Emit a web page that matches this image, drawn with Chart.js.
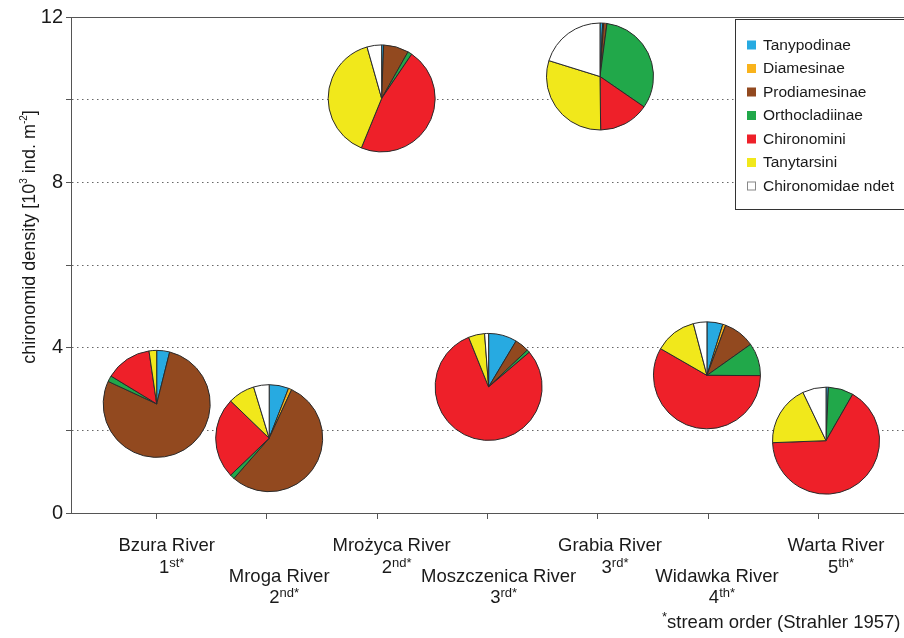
<!DOCTYPE html>
<html><head><meta charset="utf-8">
<script src="https://cdn.jsdelivr.net/npm/chart.js@4.4.1/dist/chart.umd.min.js"></script>
<style>html,body{margin:0;padding:0;background:#fff;}#wrap{width:904px;height:638px;}</style>
</head><body><div id="wrap"><canvas id="c" width="904" height="638"></canvas></div>
<script>
// ---- data ----
const rivers = ['Bzura River','Mroga River','Mrożyca River','Moszczenica River','Grabia River','Widawka River','Warta River'];
const orderNumber = ['1','2','2','3','3','4','5'];
const orderSuffix = ['st','nd','nd','rd','rd','th','th'];
const xPos = [1.0, 2.02, 3.04, 4.01, 5.02, 5.99, 7.07];
const density = [2.64, 1.81, 10.03, 3.05, 10.56, 3.33, 1.75];
const subfamilies = ['Tanypodinae','Diamesinae','Prodiamesinae','Orthocladiinae','Chironomini','Tanytarsini','Chironomidae ndet'];
const subColors = ['#27AAE1','#F9B31C','#92491F','#21A84A','#EE2029','#F1E81B','#FFFFFF'];
// percentage share of each subfamily at each river
const tanypodinae    = [3.9, 5.9, 0.6, 8.6, 0.8, 4.8, 0.7];
const diamesinae     = [0,   1.0, 0,   0,   0.3, 0.9, 0];
const prodiamesinae  = [78,  54.6,7.6, 4.3, 1.0, 9.5, 0];
const orthocladiinae = [1.8, 1.4, 1.3, 0.9, 32.5,9.9, 7.6];
const chironomini    = [14,  24.4,46.7,80.3,15.2,58.3,66.1];
const tanytarsini    = [2.3, 8.1, 39.4,4.9, 30,  12.6,18.5];
const ndet           = [0,   4.7, 4.4, 1.2, 20.2,4.1, 7.1];
const shares = [tanypodinae, diamesinae, prodiamesinae, orthocladiinae, chironomini, tanytarsini, ndet];
const xTicks = [1,2,3,4,5,6,7];
const yTickLabels = [0,4,8,12];

const FONT = '"Liberation Sans", Arial, Helvetica, sans-serif';
const PIE_R = 53.5;

function drawRuns(ctx, runs, x, y, align) {
  let total = 0;
  runs.forEach(r => { ctx.font = r.size + 'px ' + FONT; r.w = ctx.measureText(r.t).width; total += r.w; });
  let cx = align === 'center' ? x - total / 2 : x;
  ctx.textAlign = 'left';
  ctx.textBaseline = 'alphabetic';
  runs.forEach(r => { ctx.font = r.size + 'px ' + FONT; ctx.fillText(r.t, cx, y - (r.rise || 0)); cx += r.w; });
}

const piePlugin = {
  id: 'pies',
  afterDatasetsDraw(chart) {
    const ctx = chart.ctx;
    const meta = chart.getDatasetMeta(0);
    meta.data.forEach((pt, i) => {
      const vals = shares.map(s => s[i]);
      const total = vals.reduce((a, b) => a + b, 0);
      let a = -Math.PI / 2;
      ctx.save();
      ctx.lineJoin = 'round';
      vals.forEach((v, k) => {
        if (v <= 0) return;
        const a2 = a + v / total * Math.PI * 2;
        ctx.beginPath();
        ctx.moveTo(pt.x, pt.y);
        ctx.arc(pt.x, pt.y, PIE_R, a, a2);
        ctx.closePath();
        ctx.fillStyle = subColors[k];
        ctx.fill();
        ctx.lineWidth = 1;
        ctx.strokeStyle = '#2a2a2a';
        ctx.stroke();
        a = a2;
      });
      ctx.restore();
    });
  }
};

const decorPlugin = {
  id: 'decor',
  afterDraw(chart) {
    const ctx = chart.ctx;
    const ca = chart.chartArea;
    const xs = chart.scales.x;
    ctx.save();
    // top frame line
    ctx.strokeStyle = '#555';
    ctx.lineWidth = 1;
    ctx.beginPath();
    ctx.moveTo(ca.left, ca.top + 0.5);
    ctx.lineTo(ca.right, ca.top + 0.5);
    ctx.stroke();

    // legend box
    const lx = 735.5, ly = 19.5;
    ctx.fillStyle = '#fff';
    ctx.fillRect(lx, ly, 200, 190);
    ctx.strokeStyle = '#333';
    ctx.strokeRect(lx, ly, 200, 190);
    subfamilies.forEach((name, k) => {
      const cy = 45 + k * 23.5;
      ctx.fillStyle = subColors[k];
      ctx.fillRect(747, cy - 4.5, 9, 9);
      if (subColors[k] === '#FFFFFF') {
        ctx.strokeStyle = '#888';
        ctx.strokeRect(747.5, cy - 4, 8, 8);
      }
      ctx.fillStyle = '#1a1a1a';
      ctx.font = '15.5px ' + FONT;
      ctx.textAlign = 'left';
      ctx.textBaseline = 'middle';
      ctx.fillText(name, 763, cy + 0.5);
    });

    // y axis title
    ctx.save();
    ctx.translate(24, 237);
    ctx.rotate(-Math.PI / 2);
    ctx.fillStyle = '#1a1a1a';
    ctx.textBaseline = 'middle';
    const runs = [
      {t: 'chironomid density [10', size: 18},
      {t: '3', size: 10, rise: 6},
      {t: ' ind. m', size: 18},
      {t: '-2', size: 10, rise: 6},
      {t: ']', size: 18}
    ];
    let total = 0;
    runs.forEach(r => { ctx.font = r.size + 'px ' + FONT; r.w = ctx.measureText(r.t).width; total += r.w; });
    let cx = -total / 2;
    ctx.textAlign = 'left';
    runs.forEach(r => { ctx.font = r.size + 'px ' + FONT; ctx.fillText(r.t, cx, 6 - (r.rise || 0)); cx += r.w; });
    ctx.restore();

    // category labels
    ctx.fillStyle = '#1a1a1a';
    rivers.forEach((name, i) => {
      const px = xs.getPixelForValue(xPos[i]) + 10;
      const low = i % 2 === 1;
      const nameY = low ? 582 : 551;
      const ordY = low ? 603 : 573;
      drawRuns(ctx, [{t: name, size: 18.5}], px, nameY, 'center');
      drawRuns(ctx, [{t: orderNumber[i], size: 18.5}, {t: orderSuffix[i] + '*', size: 13, rise: 6}], px + 5, ordY, 'center');
    });
    // footnote
    drawRuns(ctx, [{t: '*', size: 13, rise: 7}, {t: 'stream order (Strahler 1957)', size: 18.5}], 662, 627.5, 'left');
    ctx.restore();
  }
};

new Chart(document.getElementById('c'), {
  type: 'scatter',
  data: {
    datasets: [{
      data: xPos.map((x, i) => ({x: x, y: density[i]})),
      pointRadius: 0,
      pointHoverRadius: 0,
      showLine: false
    }]
  },
  options: {
    responsive: false,
    animation: false,
    events: [],
    layout: {padding: {top: 17, left: 0, right: 0, bottom: 0}},
    plugins: {legend: {display: false}, tooltip: {enabled: false}, title: {display: false}},
    scales: {
      x: {
        type: 'linear',
        position: 'bottom',
        min: 0.2228,
        max: 7.777,
        afterBuildTicks: s => { s.ticks = xTicks.map(v => ({value: v})); },
        afterFit: s => { s.height = 125; },
        ticks: {display: false},
        grid: {display: true, drawOnChartArea: false, drawTicks: true, tickLength: 6, color: '#555', tickColor: '#555'},
        border: {display: true, color: '#555', width: 1}
      },
      y: {
        min: 0,
        max: 12,
        afterFit: s => { s.width = 71; },
        ticks: {
          stepSize: 2,
          padding: 3,
          color: '#1a1a1a',
          font: {family: FONT, size: 20},
          callback: v => yTickLabels.includes(v) ? String(v) : ''
        },
        grid: {color: '#666', lineWidth: 1, drawTicks: true, tickLength: 5, tickColor: '#555'},
        border: {display: true, color: '#555', width: 1, dash: [1.5, 3.5]}
      }
    }
  },
  plugins: [piePlugin, decorPlugin]
});
</script>
</body></html>
